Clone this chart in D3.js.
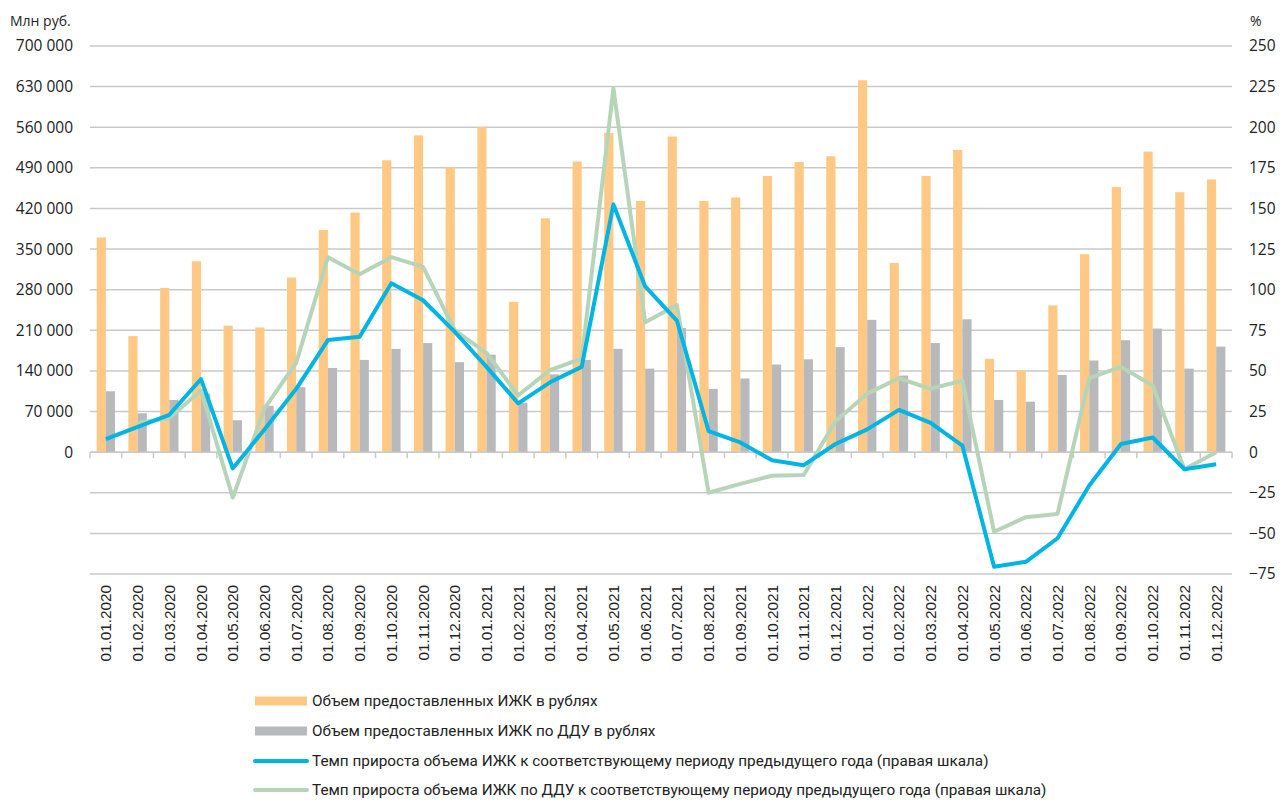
<!DOCTYPE html>
<html>
<head>
<meta charset="utf-8">
<script src="https://cdn.jsdelivr.net/npm/d3@7"></script>
<style>
body { margin: 0; background: #fff; }
svg { display: block; }
</style>
</head>
<body>
<div id="chart"></div>
<script>
var categories = ["01.01.2020","01.02.2020","01.03.2020","01.04.2020","01.05.2020","01.06.2020","01.07.2020","01.08.2020","01.09.2020","01.10.2020","01.11.2020","01.12.2020",
                  "01.01.2021","01.02.2021","01.03.2021","01.04.2021","01.05.2021","01.06.2021","01.07.2021","01.08.2021","01.09.2021","01.10.2021","01.11.2021","01.12.2021",
                  "01.01.2022","01.02.2022","01.03.2022","01.04.2022","01.05.2022","01.06.2022","01.07.2022","01.08.2022","01.09.2022","01.10.2022","01.11.2022","01.12.2022"];

// Объем ИЖК, млн руб.
var izhkTotal = [370000,200000,283000,329000,218000,215000,301000,383000,413000,503000,546000,491000,
                 560000,259000,403000,501000,550000,433000,544000,433000,439000,476000,500000,510000,
                 641000,326000,476000,521000,161000,140000,253000,341000,457000,518000,448000,470000];
// Объем ИЖК по ДДУ, млн руб.
var izhkDdu = [105000,67000,90000,101000,55000,80000,112000,145000,159000,178000,188000,155000,
               168000,85000,134000,159000,178000,144000,214000,109000,127000,151000,160000,181000,
               228000,132000,188000,229000,90000,87000,133000,158000,193000,213000,144000,182000];
// Темп прироста, % (правая шкала)
var growthTotal = [8,15.5,23,45,-10,14,39,69,71,104,93.5,74,
                   52.5,30,43,52.5,152.5,102,81,13,6,-5,-8,5,
                   14,26,18,4,-70.5,-67.5,-53,-20.5,5,9,-10.5,-7.5];
var growthDdu = [null,18,21,38,-28,27,55,120,109.5,120,114,75,
                 61,35,50.5,57.5,224,80,90.5,-25,-19.5,-14.5,-14,19,
                 36,45.5,39,44,-49,-40,-38,45.5,52.5,41,-10.5,0];

var leftTicks = [0,70000,140000,210000,280000,350000,420000,490000,560000,630000,700000];
var rightTicks = [-75,-50,-25,0,25,50,75,100,125,150,175,200,225,250];

var legendNames = ["Объем предоставленных ИЖК в рублях",
                   "Объем предоставленных ИЖК по ДДУ в рублях",
                   "Темп прироста объема ИЖК к соответствующему периоду предыдущего года (правая шкала)",
                   "Темп прироста объема ИЖК по ДДУ к соответствующему периоду предыдущего года (правая шкала)"];

function drawChart() {
var colOrange = "#ffc985", colGray = "#b8b9bb", colBlue = "#00b4e4", colGreen = "#b6d5b8";

var svg = d3.select("#chart").append("svg")
    .attr("width", 1283)
    .attr("height", 802);

var plotLeft = 90, plotRight = 1232, plotTop = 46, plotBottom = 574;

var x = d3.scaleBand().domain(categories).range([plotLeft, plotRight]).paddingInner(0.42).paddingOuter(0.21);
var x1 = d3.scaleBand().domain(["a","b"]).range([0, x.bandwidth()]);
var yL = d3.scaleLinear().domain([-210000, 700000]).range([plotBottom, plotTop]);
var yR = d3.scaleLinear().domain([-75, 250]).range([plotBottom, plotTop]);

var fmt = function(d) { return d3.format(",")(d).replace(/,/g, " "); };

// grid
svg.append("g").selectAll("line").data(rightTicks).enter().append("line")
    .attr("x1", plotLeft).attr("x2", plotRight)
    .attr("y1", function(d) { return yR(d); }).attr("y2", function(d) { return yR(d); })
    .style("stroke", "#c9c9c9").style("stroke-width", 1.5);

// bars
var bars = svg.append("g");
bars.selectAll("rect.tot").data(izhkTotal).enter().append("rect")
    .attr("x", function(d, i) { return x(categories[i]) + x1("a"); })
    .attr("width", x1.bandwidth())
    .attr("y", function(d) { return yL(d); })
    .attr("height", function(d) { return yL(0) - yL(d); })
    .style("fill", colOrange);
bars.selectAll("rect.ddu").data(izhkDdu).enter().append("rect")
    .attr("x", function(d, i) { return x(categories[i]) + x1("b"); })
    .attr("width", x1.bandwidth())
    .attr("y", function(d) { return yL(d); })
    .attr("height", function(d) { return yL(0) - yL(d); })
    .style("fill", colGray);

// x axis at zero, ticks between categories
svg.append("line").attr("x1", plotLeft).attr("x2", plotRight).attr("y1", yL(0)).attr("y2", yL(0))
    .style("stroke", "#c9c9c9").style("stroke-width", 1.5);
var step = x.step();
svg.append("g").selectAll("line").data(d3.range(categories.length + 1)).enter().append("line")
    .attr("x1", function(d) { return plotLeft + d * step; })
    .attr("x2", function(d) { return plotLeft + d * step; })
    .attr("y1", yL(0)).attr("y2", yL(0) + 6)
    .style("stroke", "#c9c9c9").style("stroke-width", 1.5);

// category labels
svg.append("g").selectAll("text").data(categories).enter().append("text")
    .attr("transform", function(d) { return "translate(" + (x(d) + x.bandwidth() / 2 + 5.5) + ",585) rotate(-90)"; })
    .attr("text-anchor", "end")
    .style("font-family", "'Liberation Sans', Arial, sans-serif")
    .style("font-size", "15.3px")
    .style("fill", "#222")
    .text(function(d) { return d; });

// left axis
var gL = svg.append("g").attr("transform", "translate(" + plotLeft + ",0)")
    .call(d3.axisLeft(yL).tickValues(leftTicks).tickSize(0).tickPadding(17).tickFormat(fmt));
gL.select(".domain").remove();
gL.selectAll("text").style("font-family", "'Open Sans', sans-serif").style("font-size", "15.5px").style("fill", "#222");

// right axis
var gR = svg.append("g").attr("transform", "translate(" + plotRight + ",0)")
    .call(d3.axisRight(yR).tickValues(rightTicks).tickSize(0).tickPadding(17));
gR.select(".domain").remove();
gR.selectAll("text").style("font-family", "'Open Sans', sans-serif").style("font-size", "15.5px").style("fill", "#222");

svg.append("text").attr("x", 10).attr("y", 26).text("Млн руб.")
    .style("font-family", "'Open Sans', sans-serif").style("font-size", "14px").style("fill", "#222");
svg.append("text").attr("x", 1250).attr("y", 26).text("%")
    .style("font-family", "'Open Sans', sans-serif").style("font-size", "14px").style("fill", "#222");

// lines
var cx = function(i) { return x(categories[i]) + x.bandwidth() / 2; };
var lineR = d3.line()
    .defined(function(d) { return d != null; })
    .x(function(d, i) { return cx(i); })
    .y(function(d) { return yR(d); });

svg.append("path").datum(growthDdu).attr("d", lineR)
    .style("fill", "none").style("stroke", colGreen).style("stroke-width", 4).style("stroke-linejoin", "round");
svg.append("path").datum(growthTotal).attr("d", lineR)
    .style("fill", "none").style("stroke", colBlue).style("stroke-width", 4).style("stroke-linejoin", "round");

// legend
var legend = svg.append("g");
var legY = [701, 731, 761, 790];
legendNames.forEach(function(name, i) {
    var g = legend.append("g").attr("transform", "translate(255," + legY[i] + ")");
    if (i < 2) {
        g.append("rect").attr("x", 0).attr("y", -4.5).attr("width", 52).attr("height", 9)
            .style("fill", i == 0 ? colOrange : colGray);
    } else {
        g.append("line").attr("x1", 0).attr("x2", 52).attr("y1", 0).attr("y2", 0)
            .style("stroke", i == 2 ? colBlue : colGreen).style("stroke-width", 4).style("stroke-linecap", "round");
    }
    g.append("text").attr("x", 57).attr("y", 5).text(name)
        .style("font-family", "Roboto, sans-serif").style("font-size", "15.3px").style("fill", "#222");
});
}

drawChart();
</script>
</body>
</html>
